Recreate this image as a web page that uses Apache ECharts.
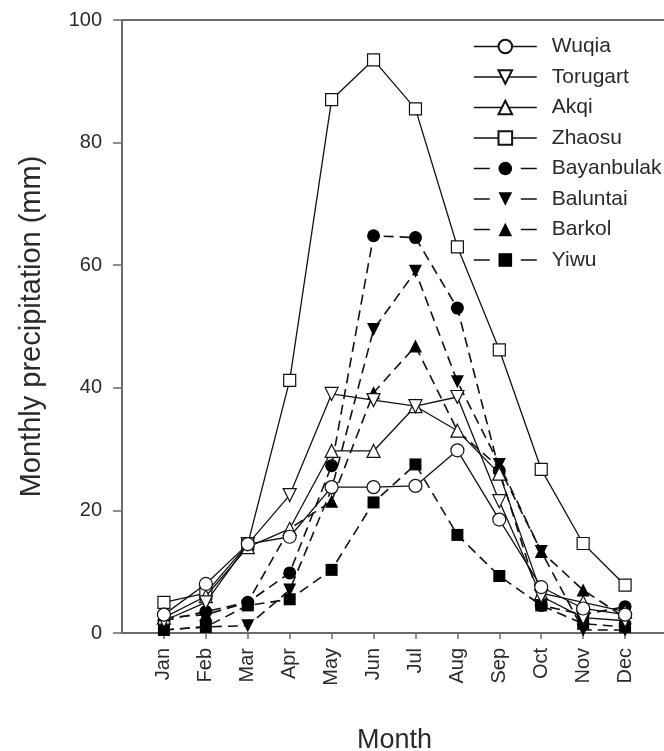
<!DOCTYPE html>
<html>
<head>
<meta charset="utf-8">
<script src="https://cdn.jsdelivr.net/npm/echarts@6/dist/echarts.min.js"></script>
<style>
  html, body { margin: 0; padding: 0; background: #fff; }
  #chart { width: 664px; height: 751px; }
</style>
</head>
<body>
<div id="chart"></div>
<script>
// Monthly precipitation (mm) at eight stations
const months = ['Jan', 'Feb', 'Mar', 'Apr', 'May', 'Jun', 'Jul', 'Aug', 'Sep', 'Oct', 'Nov', 'Dec'];
const yTicks = [0, 20, 40, 60, 80, 100];

const wuqia      = [3.0, 8.0, 14.5, 15.7, 23.8, 23.8, 24.0, 29.8, 18.5, 7.5, 4.0, 3.0];
const torugart   = [2.0, 5.0, 14.5, 22.5, 39.0, 38.0, 37.0, 38.5, 21.5, 6.0, 2.5, 2.0];
const akqi       = [2.5, 6.0, 14.0, 17.0, 29.7, 29.7, 37.0, 33.0, 26.0, 6.5, 5.0, 3.5];
const zhaosu     = [5.0, 6.5, 14.5, 41.2, 87.0, 93.5, 85.5, 63.0, 46.2, 26.7, 14.6, 7.8];
const bayanbulak = [2.0, 3.5, 5.0, 9.8, 27.3, 64.8, 64.5, 53.0, 26.5, 4.5, 3.0, 4.3];
const baluntai   = [0.5, 1.0, 1.2, 7.0, 23.5, 49.5, 59.0, 41.0, 27.5, 13.3, 0.5, 0.5];
const barkol     = [2.5, 3.0, 5.0, 17.0, 21.5, 39.2, 46.8, 33.0, 27.0, 13.3, 7.0, 2.5];
const yiwu       = [0.5, 1.0, 4.5, 5.5, 10.3, 21.3, 27.5, 16.0, 9.3, 4.5, 1.5, 1.0];

const stations = [
  { name: 'Wuqia',      data: wuqia,      symbol: 'circle',   rotate: 0,   open: true,  dashed: false },
  { name: 'Torugart',   data: torugart,   symbol: 'triangle', rotate: 180, open: true,  dashed: false },
  { name: 'Akqi',       data: akqi,       symbol: 'triangle', rotate: 0,   open: true,  dashed: false },
  { name: 'Zhaosu',     data: zhaosu,     symbol: 'rect',     rotate: 0,   open: true,  dashed: false },
  { name: 'Bayanbulak', data: bayanbulak, symbol: 'circle',   rotate: 0,   open: false, dashed: true },
  { name: 'Baluntai',   data: baluntai,   symbol: 'triangle', rotate: 180, open: false, dashed: true },
  { name: 'Barkol',     data: barkol,     symbol: 'triangle', rotate: 0,   open: false, dashed: true },
  { name: 'Yiwu',       data: yiwu,       symbol: 'rect',     rotate: 0,   open: false, dashed: true }
];

const font = 'Liberation Sans, Arial, sans-serif';
const axisColor = '#6a6a6a';
const textColor = '#2a2a2a';
const monthIdx = months.map((m, i) => i + 1);

const chart = echarts.init(document.getElementById('chart'), null, { renderer: 'canvas' });

chart.setOption({
  animation: false,
  backgroundColor: '#fff',
  grid: {
    left: 122, top: 20, right: -3, bottom: 118,
    show: true, borderColor: axisColor, borderWidth: 2,
    containLabel: false, outerBoundsMode: 'none'
  },
  legend: {
    left: 468, top: 31,
    orient: 'vertical',
    itemWidth: 63, itemHeight: 17, itemGap: 9.5,
    textStyle: { fontFamily: font, fontSize: 21, color: textColor, padding: [0, 0, 0, 10] },
    // legend keys: a short dash on either side of the marker for dashed series
    data: stations.map(s => ({
      name: s.name,
      lineStyle: s.dashed ? { type: [16, 31], width: 1.6 } : { type: 'solid', width: 1.3 }
    }))
  },
  xAxis: {
    type: 'value',
    min: 0, max: 13, interval: 1,
    name: 'Month',
    nameLocation: 'middle',
    nameGap: 94,
    nameTextStyle: { fontFamily: font, fontSize: 27, color: textColor },
    axisLine: { lineStyle: { color: axisColor, width: 2 } },
    axisTick: { inside: false, length: 6, customValues: monthIdx, lineStyle: { color: axisColor, width: 1.5 } },
    axisLabel: {
      customValues: monthIdx,
      rotate: 90, margin: 15,
      fontFamily: font, fontSize: 20, color: textColor,
      formatter: v => months[v - 1] || ''
    },
    splitLine: { show: false }
  },
  yAxis: {
    type: 'value',
    min: 0, max: 100, interval: 20,
    name: 'Monthly precipitation (mm)',
    nameLocation: 'middle',
    nameGap: 76,
    nameTextStyle: { fontFamily: font, fontSize: 29, color: textColor },
    axisLine: { show: true, lineStyle: { color: axisColor, width: 2 } },
    axisTick: { show: true, inside: false, length: 9, customValues: yTicks, lineStyle: { color: axisColor, width: 1.5 } },
    axisLabel: {
      customValues: yTicks,
      margin: 20, fontFamily: font, fontSize: 20, color: textColor
    },
    splitLine: { show: false }
  },
  series: stations.map((s, k) => ({
    name: s.name,
    type: 'line',
    z: 10 - k,
    data: s.data.map((v, i) => [i + 1, v]),
    symbol: s.symbol,
    symbolRotate: s.rotate,
    symbolSize: s.symbol === 'rect' ? 12 : 13,
    showAllSymbol: true,
    lineStyle: {
      color: '#111',
      width: s.dashed ? 1.6 : 1.3,
      type: s.dashed ? [10, 6] : 'solid'
    },
    itemStyle: {
      color: s.open ? '#fff' : '#000',
      borderColor: '#111',
      borderWidth: s.open ? 1.2 : 0
    },
    emphasis: { disabled: true }
  }))
});
</script>
</body>
</html>
